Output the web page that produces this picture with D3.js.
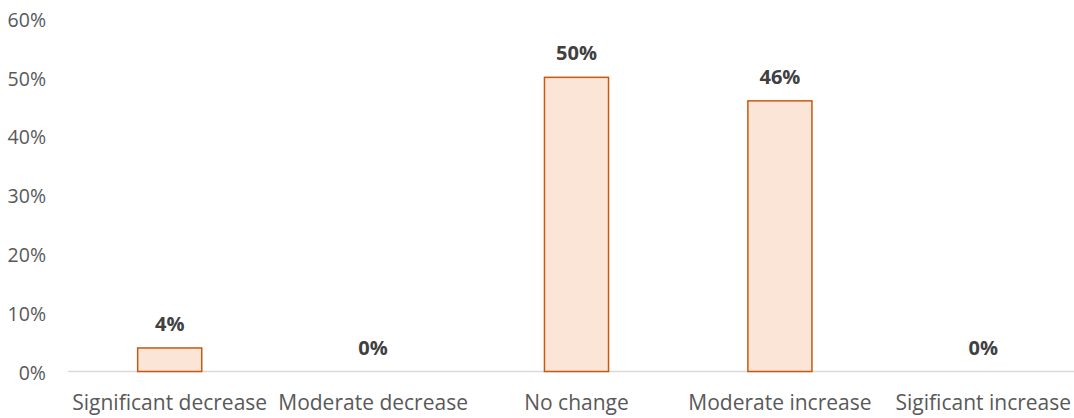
<!DOCTYPE html>
<html>
<head>
<meta charset="utf-8">
<script src="https://cdn.jsdelivr.net/npm/d3@7"></script>
<style>
body{margin:0;background:#fff;}
svg{display:block;}
</style>
</head>
<body>
<svg id="chart" width="1074" height="418"></svg>
<script>
// categories and values
var categories = ["Significant decrease","Moderate decrease","No change","Moderate increase","Sigificant increase"];
var values = [0.04, 0, 0.50, 0.46, 0];
var yTicks = [0, 0.1, 0.2, 0.3, 0.4, 0.5, 0.6];

var svg = d3.select("#chart");
var font = "'Open Sans', sans-serif";

var x = d3.scaleBand().domain(categories).range([68, 1085]).padding(0);
var y = d3.scaleLinear().domain([0, 0.6]).range([371.5, 18.5]);
var barW = x.bandwidth()*0.315;

// baseline only, no other gridlines
svg.append("line")
	.attr("x1",68).attr("x2",1085)
	.attr("y1",y(0)).attr("y2",y(0))
	.attr("stroke","#d9d9d9").attr("stroke-width",1.5);

// y tick labels
svg.append("g").selectAll("text")
	.data(yTicks).enter().append("text")
	.attr("x",46).attr("y",function(d){return y(d);})
	.attr("dy","0.42em")
	.attr("text-anchor","end")
	.attr("font-family",font).attr("font-size","19.5px")
	.attr("fill","#595959")
	.text(d3.format(".0%"));

// bars
svg.append("g").selectAll("rect")
	.data(values).enter().append("rect")
	.attr("x",function(d,i){return x(categories[i])+x.bandwidth()/2-barW/2;})
	.attr("y",function(d){return y(d);})
	.attr("width",barW)
	.attr("height",function(d){return y(0)-y(d);})
	.attr("fill","#fbe5d6")
	.attr("stroke","#c55a11")
	.attr("stroke-width",1.5)
	.style("display",function(d){return d>0?null:"none";});

// data labels
svg.append("g").selectAll("text")
	.data(values).enter().append("text")
	.attr("x",function(d,i){return x(categories[i])+x.bandwidth()/2;})
	.attr("y",function(d){return y(d)-17;})
	.attr("text-anchor","middle")
	.attr("font-family",font).attr("font-size","20px").attr("font-weight","bold")
	.attr("fill","#404040")
	.text(d3.format(".0%"));

// category labels
svg.append("g").selectAll("text")
	.data(categories).enter().append("text")
	.attr("x",function(d){return x(d)+x.bandwidth()/2;})
	.attr("y",410)
	.attr("text-anchor","middle")
	.attr("font-family",font).attr("font-size","21px")
	.attr("fill","#595959")
	.text(function(d){return d;});
</script>
</body>
</html>
